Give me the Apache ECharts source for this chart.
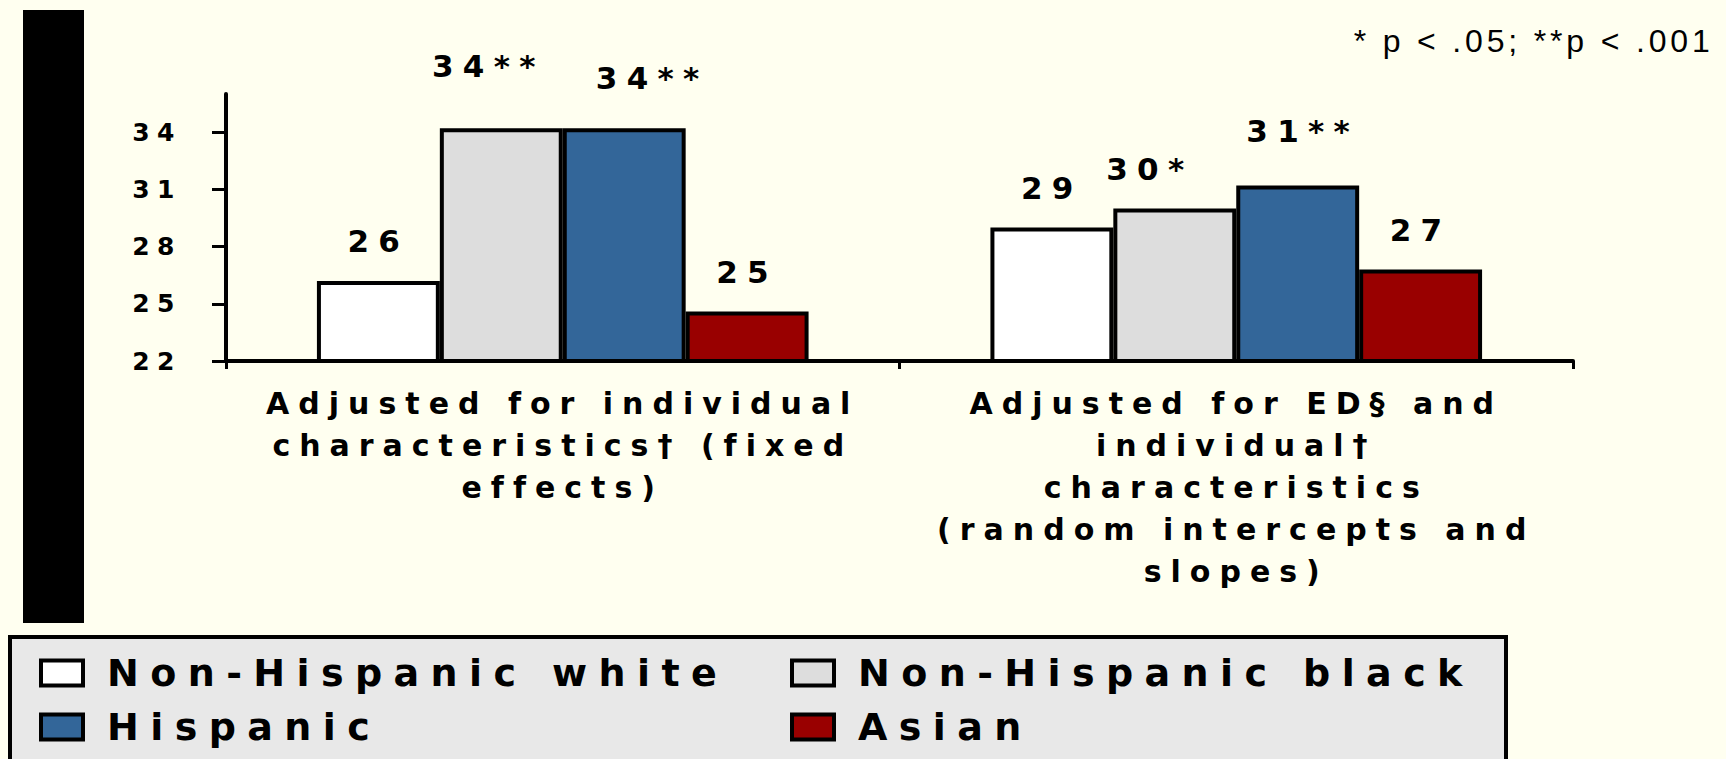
<!DOCTYPE html>
<html>
<head>
<meta charset="utf-8">
<script src="https://cdn.jsdelivr.net/npm/echarts@6/dist/echarts.min.js"></script>
<style>
  html, body { margin: 0; padding: 0; background: #fffff0; }
  #chart { width: 1726px; height: 759px; }
  /* the slide's text is widely tracked */
  #chart svg text { letter-spacing: 0.12em; }
  #chart svg text[style*="bold"], #chart svg text[font-weight="bold"] { letter-spacing: 0.3em; }
</style>
</head>
<body>
<div id="chart"></div>
<script>
// data
const categories = [
  "Adjusted for individual\ncharacteristics† (fixed\neffects)",
  "Adjusted for ED§ and\nindividual†\ncharacteristics\n(random intercepts and\nslopes)"
];
const groups = ["Non-Hispanic white", "Non-Hispanic black", "Hispanic", "Asian"];
const whiteVals = [26.2, 29.0];
const blackVals = [34.2, 30.0];
const hispanicVals = [34.2, 31.2];
const asianVals = [24.6, 26.8];
const whiteSig = ["", ""];
const blackSig = ["**", "*"];
const hispanicSig = ["**", "**"];
const asianSig = ["", ""];
const yTicks = [22, 25, 28, 31, 34];
const note = "* p < .05; **p < .001";

const colors = ["#ffffff", "#dddddd", "#336699", "#990000"];
const boldFont = { fontFamily: "DejaVu Sans", fontWeight: "bold", color: "#000" };

// label nudges so the labels sit like in the original slide
const labelShift = {
  "Non-Hispanic black": [[-13, -23], [-25, 0]],
  "Hispanic": [[28, -11], [5, -15]]
};

const makeSeries = (name, vals, sig, color) => ({
  name: name,
  type: "bar",
  barGap: "0%",
  barCategoryGap: "27%",
  itemStyle: { color: color, borderColor: "#000", borderWidth: 4 },
  label: {
    show: true,
    position: "top",
    distance: 24,
    ...boldFont,
    fontSize: 31,
    formatter: p => Math.round(p.value) + sig[p.dataIndex]
  },
  data: vals.map((v, i) => {
    const shift = labelShift[name];
    return shift ? { value: v, label: { offset: shift[i] } } : v;
  })
});

const legendBase = {
  orient: "vertical",
  top: 654,
  padding: 0,
  itemWidth: 42,
  itemHeight: 25,
  itemGap: 16,
  icon: "rect",
  itemStyle: { borderColor: "#000", borderWidth: 4 },
  textStyle: { ...boldFont, fontSize: 38, padding: [0, 0, 0, 19] }
};

const chart = echarts.init(document.getElementById("chart"), null, { renderer: "svg" });
chart.setOption({
  backgroundColor: "#fffff0",
  animation: false,
  title: {
    text: note,
    // the note is left-anchored, so leave room for the css tracking
    right: 88,
    top: 20,
    textStyle: { fontFamily: "Liberation Sans", fontWeight: "normal", fontSize: 32, color: "#000" }
  },
  graphic: [
    { type: "rect", z: 0, shape: { x: 23, y: 10, width: 61, height: 613 }, style: { fill: "#000" } },
    {
      type: "rect", z: 0,
      shape: { x: 10, y: 637, width: 1496, height: 140 },
      style: { fill: "#e8e8e8", stroke: "#000", lineWidth: 4 }
    }
  ],
  legend: [
    { ...legendBase, left: 39, data: [groups[0], groups[2]] },
    { ...legendBase, left: 790, data: [groups[1], groups[3]] }
  ],
  grid: { left: 226, right: 153, top: 94, bottom: 398 },
  xAxis: {
    type: "category",
    data: categories,
    axisLine: { lineStyle: { color: "#000", width: 4 } },
    axisTick: { show: true, length: 8, lineStyle: { color: "#000", width: 3 } },
    axisLabel: { ...boldFont, fontSize: 30, lineHeight: 42, margin: 21, interval: 0 }
  },
  yAxis: {
    type: "value",
    min: 22,
    max: 36,
    splitLine: { show: false },
    axisLine: { show: true, lineStyle: { color: "#000", width: 4 } },
    axisTick: { show: true, length: 14, customValues: yTicks, lineStyle: { color: "#000", width: 3 } },
    axisLabel: { ...boldFont, fontSize: 25, margin: 44, customValues: yTicks }
  },
  series: [
    makeSeries(groups[0], whiteVals, whiteSig, colors[0]),
    makeSeries(groups[1], blackVals, blackSig, colors[1]),
    makeSeries(groups[2], hispanicVals, hispanicSig, colors[2]),
    makeSeries(groups[3], asianVals, asianSig, colors[3])
  ]
});
</script>
</body>
</html>
